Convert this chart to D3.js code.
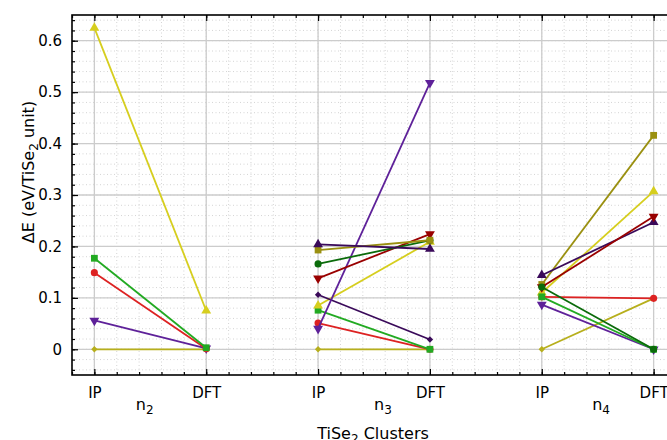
<!DOCTYPE html>
<html>
<head>
<meta charset="utf-8">
<script src="https://cdn.jsdelivr.net/npm/d3@7"></script>
<style>
  body { margin: 0; background: #fff; }
  svg { display: block; font-family: "DejaVu Sans", sans-serif; }
</style>
</head>
<body>
<script>
// x positions of the IP / DFT columns and their labels
const xPositions = [1, 2, 3, 4, 5, 6];
const xLabels = ["IP", "DFT", "IP", "DFT", "IP", "DFT"];
const groupNames = ["2", "3", "4"];
const groupLabelX = [1.45, 3.58, 5.53];
const yTicks = [0, 0.1, 0.2, 0.3, 0.4, 0.5, 0.6];

// n2 cluster
const n2Keys = ["olive", "purple", "red", "green", "yellow"];
const n2IP   = [0, 0.056, 0.149, 0.177, 0.625];
const n2DFT  = [0, 0.002, 0.001, 0.003, 0.075];

// n3 cluster
const n3Keys = ["olive", "red", "green", "yellow", "darkpurpleD", "purple", "darkred", "darkgreen", "oliveSq", "darkpurple"];
const n3IP   = [0, 0.051, 0.076, 0.085, 0.106, 0.040, 0.138, 0.166, 0.193, 0.204];
const n3DFT  = [0, 0.000, 0.000, 0.209, 0.019, 0.518, 0.224, 0.212, 0.212, 0.195];

// n4 cluster
const n4Keys = ["olive", "purple", "red", "oliveSq", "yellow", "darkpurple", "darkred", "green", "darkgreen"];
const n4IP   = [0, 0.087, 0.102, 0.126, 0.110, 0.144, 0.121, 0.102, 0.121];
const n4DFT  = [0.099, 0.000, 0.099, 0.416, 0.307, 0.247, 0.258, 0.000, 0.000];

const styles = {
  yellow:      { color: "#d6ce1e", shape: "triUp" },
  olive:       { color: "#b7af1c", shape: "diamond" },
  oliveSq:     { color: "#9a9010", shape: "square" },
  green:       { color: "#22aa22", shape: "square" },
  darkgreen:   { color: "#0b6b0b", shape: "circle" },
  red:         { color: "#dd2222", shape: "circle" },
  darkred:     { color: "#990000", shape: "triDown" },
  purple:      { color: "#5e2199", shape: "triDown" },
  darkpurple:  { color: "#3a0a5a", shape: "triUp" },
  darkpurpleD: { color: "#3a0a5a", shape: "diamond" }
};

const W = 667, H = 440;
const pLeft = 72, pTop = 15, pRight = 676, pBottom = 375;

const x = d3.scaleLinear().domain([0.8, 6.2]).range([pLeft, pRight]);
const y = d3.scaleLinear().domain([-0.05, 0.65]).range([pBottom, pTop]);

const svg = d3.select("body").append("svg").attr("width", W).attr("height", H);

// grid
const xMinor = d3.range(4, 32).map(i => i / 5);
const yMinor = d3.range(-2, 33).map(i => i / 50);
const grid = svg.append("g");
grid.selectAll(".vx").data(xMinor).enter().append("line")
  .attr("x1", d => x(d)).attr("x2", d => x(d)).attr("y1", pTop).attr("y2", pBottom)
  .attr("stroke", "#d4d4d4").attr("stroke-width", 1).attr("stroke-dasharray", "1,2.5");
grid.selectAll(".hy").data(yMinor).enter().append("line")
  .attr("x1", pLeft).attr("x2", pRight).attr("y1", d => y(d)).attr("y2", d => y(d))
  .attr("stroke", "#d4d4d4").attr("stroke-width", 1).attr("stroke-dasharray", "1,2.5");
grid.selectAll(".vX").data(xPositions).enter().append("line")
  .attr("x1", d => x(d)).attr("x2", d => x(d)).attr("y1", pTop).attr("y2", pBottom)
  .attr("stroke", "#cccccc").attr("stroke-width", 1.3);
grid.selectAll(".hY").data(yTicks).enter().append("line")
  .attr("x1", pLeft).attr("x2", pRight).attr("y1", d => y(d)).attr("y2", d => y(d))
  .attr("stroke", "#cccccc").attr("stroke-width", 1.3);

// minor ticks (inward)
svg.append("g").attr("transform", `translate(0,${pBottom})`)
  .call(d3.axisBottom(x).tickValues(xMinor).tickSize(-3).tickFormat(""))
  .call(g => g.select(".domain").remove());
svg.append("g").attr("transform", `translate(0,${pTop})`)
  .call(d3.axisTop(x).tickValues(xMinor).tickSize(-3).tickFormat(""))
  .call(g => g.select(".domain").remove());
svg.append("g").attr("transform", `translate(${pLeft},0)`)
  .call(d3.axisLeft(y).tickValues(yMinor).tickSize(-3).tickFormat(""))
  .call(g => g.select(".domain").remove());

// major ticks + labels
const xAxis = svg.append("g").attr("transform", `translate(0,${pBottom})`)
  .call(d3.axisBottom(x).tickValues(xPositions).tickSize(-6).tickPadding(12)
    .tickFormat((d, i) => xLabels[i]));
xAxis.select(".domain").remove();
xAxis.selectAll("text").attr("font-size", 15).attr("fill", "#000").attr("font-family", "DejaVu Sans");

svg.append("g").attr("transform", `translate(0,${pTop})`)
  .call(d3.axisTop(x).tickValues(xPositions).tickSize(-6).tickFormat(""))
  .call(g => g.select(".domain").remove());

const yAxis = svg.append("g").attr("transform", `translate(${pLeft},0)`)
  .call(d3.axisLeft(y).tickValues(yTicks).tickSize(-6).tickPadding(10)
    .tickFormat(d => d === 0 ? "0" : d.toFixed(1)));
yAxis.select(".domain").remove();
yAxis.selectAll("text").attr("font-size", 15).attr("fill", "#000").attr("font-family", "DejaVu Sans");

svg.selectAll(".tick line").attr("stroke", "#000").attr("stroke-width", 1.2);

// series
const symTri = d3.symbol().type(d3.symbolTriangle).size(42);
const symSq = d3.symbol().type(d3.symbolSquare).size(46);
const symCirc = d3.symbol().type(d3.symbolCircle).size(40);
const symDia = d3.symbol().type(d3.symbolSquare).size(20);

function marker(g, shape, px, py, color) {
  let path, rot = 0;
  if (shape === "triUp") path = symTri();
  else if (shape === "triDown") { path = symTri(); rot = 180; }
  else if (shape === "square") path = symSq();
  else if (shape === "circle") path = symCirc();
  else { path = symDia(); rot = 45; }
  g.append("path").attr("d", path)
    .attr("transform", `translate(${px},${py}) rotate(${rot})`)
    .attr("fill", color);
}

function drawGroup(keys, ipVals, dftVals, xIP, xDFT) {
  keys.forEach((k, i) => {
    const s = styles[k];
    const g = svg.append("g");
    g.append("line")
      .attr("x1", x(xIP)).attr("y1", y(ipVals[i]))
      .attr("x2", x(xDFT)).attr("y2", y(dftVals[i]))
      .attr("stroke", s.color).attr("stroke-width", 1.8);
    marker(g, s.shape, x(xIP), y(ipVals[i]), s.color);
    marker(g, s.shape, x(xDFT), y(dftVals[i]), s.color);
  });
}
drawGroup(n2Keys, n2IP, n2DFT, 1, 2);
drawGroup(n3Keys, n3IP, n3DFT, 3, 4);
drawGroup(n4Keys, n4IP, n4DFT, 5, 6);

// frame
svg.append("rect").attr("x", pLeft).attr("y", pTop)
  .attr("width", pRight - pLeft).attr("height", pBottom - pTop)
  .attr("fill", "none").attr("stroke", "#000").attr("stroke-width", 1.6);

// group labels
groupNames.forEach((n, i) => {
  const t = svg.append("text").attr("x", x(groupLabelX[i])).attr("y", 410)
    .attr("text-anchor", "middle").attr("font-size", 16);
  t.append("tspan").text("n");
  t.append("tspan").text(n).attr("font-size", 12).attr("dy", 4);
});

// axis titles
const xt = svg.append("text").attr("x", 373).attr("y", 439)
  .attr("text-anchor", "middle").attr("font-size", 16);
xt.append("tspan").text("TiSe");
xt.append("tspan").text("2").attr("font-size", 12).attr("dy", 4);
xt.append("tspan").text(" Clusters").attr("dy", -4);

const yt = svg.append("text").attr("transform", "translate(34,172) rotate(-90)")
  .attr("text-anchor", "middle").attr("font-size", 16);
yt.append("tspan").text("ΔE (eV/TiSe");
yt.append("tspan").text("2").attr("font-size", 12).attr("dy", 4);
yt.append("tspan").text(" unit)").attr("dy", -4);
</script>
</body>
</html>
